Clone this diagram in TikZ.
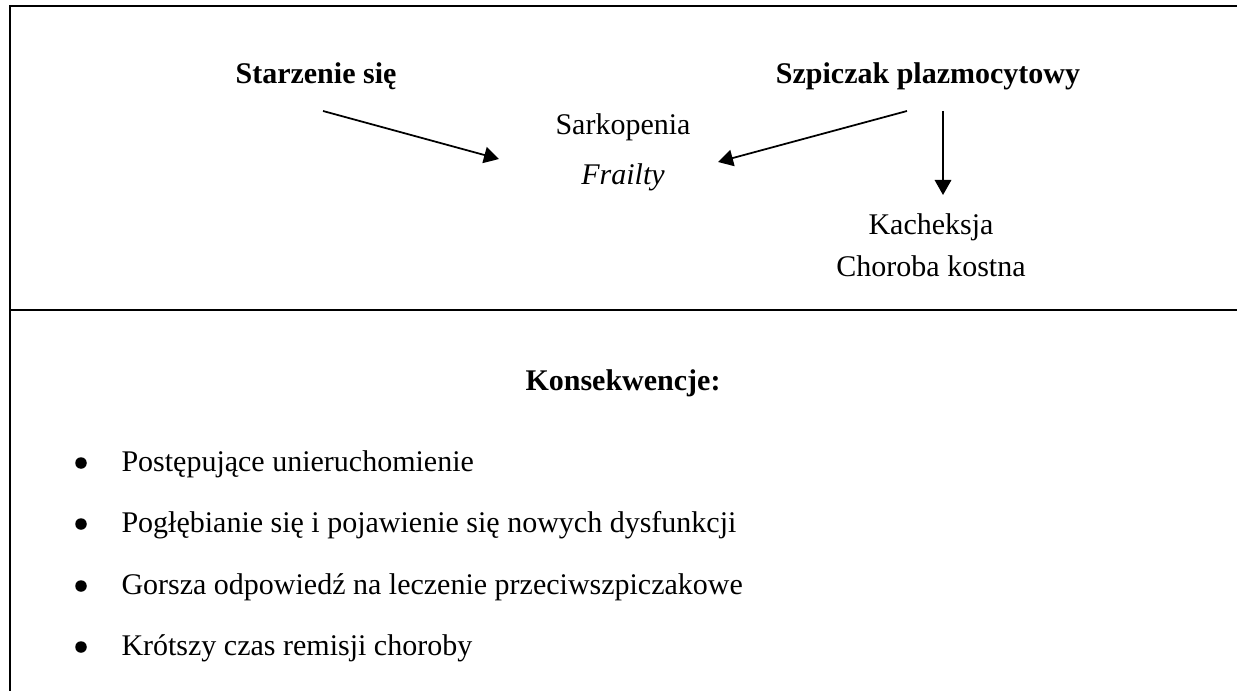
\documentclass[tikz,border=0pt]{standalone}
\usepackage{fontspec}
\setmainfont{Liberation Serif}
\usetikzlibrary{arrows.meta}

\begin{document}
\begin{tikzpicture}[x=0.4pt, y=-0.4pt,
    txt/.style={anchor=base, inner sep=0pt, font=\fontsize{12}{14}\selectfont},
    head/.style={txt, font=\fontsize{12}{14}\selectfont\bfseries},
    item/.style={txt, anchor=base west},
    dot/.style={circle, fill, inner sep=0pt, minimum size=4.6pt},
    frame/.style={line width=0.9pt},
    arr/.style={line width=0.7pt, -{Triangle[length=6pt, width=6.6pt]}}]
                \useasboundingbox (0,0) rectangle (1237,691);

                % ramka
                \draw[frame] (10,691) -- (10,6) -- (1237,6);
                \draw[frame] (10,310) -- (1237,310);

                % gorna czesc
                \node[head] (starz) at (316,84) {Starzenie się};
                \node[head] (szpi) at (928,84) {Szpiczak plazmocytowy};
                \node[txt] (sark) at (623,135) {Sarkopenia};
                \node[txt] (frail) at (623,185) {\itshape Frailty};
                \node[txt] (kach) at (931,235) {Kacheksja};
                \node[txt] (chor) at (931,277) {Choroba kostna};

                \coordinate (s1) at (323,111);
                \coordinate (e1) at (499,159);
                \coordinate (s2) at (907,111);
                \coordinate (e2) at (718,162);
                \coordinate (s3) at (943,111);
                \coordinate (e3) at (943,195);

                \draw[arr] (s1) -- (e1);
                \draw[arr] (s2) -- (e2);
                \draw[arr] (s3) -- (e3);

                % dolna czesc
                \node[head] (kons) at (623,390) {Konsekwencje:};

                \node[dot] (d1) at (81,463) {};
                \node[dot] (d2) at (81,524) {};
                \node[dot] (d3) at (81,586) {};
                \node[dot] (d4) at (81,647) {};

                \node[item] (i1) at (121,471) {Postępujące unieruchomienie};
                \node[item] (i2) at (121,532) {Pogłębianie się i pojawienie się nowych dysfunkcji};
                \node[item] (i3) at (121,594) {Gorsza odpowiedź na leczenie przeciwszpiczakowe};
                \node[item] (i4) at (121,655) {Krótszy czas remisji choroby};
            \end{tikzpicture}
\end{document}
